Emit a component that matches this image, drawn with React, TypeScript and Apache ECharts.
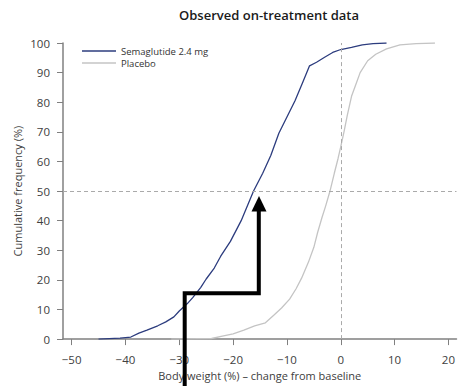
import React, { useEffect, useRef } from "react";
import * as echarts from "echarts";

const title = "Observed on-treatment data";
const xAxisName = "Body weight (%) – change from baseline";
const yAxisName = "Cumulative frequency (%)";
const xTicks = [-50, -40, -30, -20, -10, 0, 10, 20];
const seriesNames = ["Semaglutide 2.4 mg", "Placebo"];

const semaX = [-45, -41, -39, -37.5, -36, -34, -32.5, -31, -30, -28.5, -27.5, -26, -25, -23.5, -22.3, -20.5, -18.5, -16.2, -14.5, -13, -11.5, -10, -8.5, -7, -5.8, -4.5, -3, -1.5, 0, 2, 4, 6, 8.5];
const semaY = [0, 0.3, 0.7, 2, 3, 4.5, 5.8, 7.5, 9.5, 12, 14, 17.5, 20.3, 24, 28, 33, 40, 50, 56, 62, 69.5, 75, 80.5, 87, 92.3, 93.5, 95.2, 96.8, 97.8, 98.5, 99.4, 99.8, 100];

const placeboX = [-31.5, -24, -22, -20, -18, -16, -14, -12.5, -11, -9.5, -8.3, -7.3, -6, -5, -4.3, -3.5, -2.8, -2, -1.2, -0.5, 0, 0.6, 1.2, 2, 2.8, 3.6, 5, 6.5, 8.5, 11, 14, 17.5];
const placeboY = [0, 0.2, 1, 1.8, 3, 4.5, 5.5, 8, 10.5, 13.5, 17, 20.5, 26, 31, 36, 41, 45, 50, 56, 61, 65, 70, 75.5, 82, 86, 90, 94, 96.2, 98, 99.4, 99.8, 100];

const refX = 0;
const refY = 50;

const FONT = "Open Sans";

export default function App() {
  const ref = useRef<HTMLDivElement>(null);
  useEffect(() => {
    const chart = echarts.init(ref.current!, null, { renderer: "svg" });
    const fmt = (v: number) => (v < 0 ? "\u2212" + Math.abs(v) : String(v));
    chart.setOption({
      animation: false,
      textStyle: { fontFamily: FONT },
      title: {
        text: title,
        left: 264,
        top: 3,
        textAlign: "center",
        textStyle: { fontFamily: FONT, fontSize: 13, fontWeight: 600, color: "#1a1a1a" },
      },
      legend: {
        orient: "vertical",
        left: 77,
        top: 41,
        icon: "rect",
        itemWidth: 34,
        itemHeight: 1.4,
        itemGap: 2,
        data: seriesNames,
        textStyle: { fontFamily: FONT, fontSize: 9.5, color: "#333" },
      },
      grid: { left: 63, right: 0, top: 43, bottom: 45, containLabel: false },
      xAxis: {
        type: "value",
        min: -51.6,
        max: 21.5,
        name: xAxisName,
        nameLocation: "middle",
        nameGap: 30,
        nameTextStyle: { fontFamily: FONT, fontSize: 11, color: "#404040" },
        splitLine: { show: false },
        axisLine: { show: true, onZero: false, lineStyle: { color: "#808080", width: 1.5 } },
        axisTick: { show: true, customValues: xTicks, length: 6, lineStyle: { color: "#808080" } },
        axisLabel: {
          customValues: xTicks,
          formatter: fmt,
          fontFamily: FONT,
          fontSize: 11.5,
          color: "#404040",
          margin: 14,
        },
      },
      yAxis: {
        type: "value",
        min: 0,
        max: 100,
        interval: 10,
        name: yAxisName,
        nameLocation: "middle",
        nameGap: 40,
        nameMoveOverlap: false,
        nameTextStyle: { fontFamily: FONT, fontSize: 11, color: "#404040" },
        splitLine: { show: false },
        axisLine: { show: true, onZero: false, lineStyle: { color: "#808080", width: 1.5 } },
        axisTick: { show: true, length: 6, lineStyle: { color: "#808080" } },
        axisLabel: { fontFamily: FONT, fontSize: 11.5, color: "#404040", margin: 13 },
      },
      series: [
        {
          name: seriesNames[0],
          type: "line",
          symbol: "none",
          showSymbol: false,
          data: semaX.map((x, i) => [x, semaY[i]]),
          lineStyle: { color: "#2c3c7e", width: 1.3 },
          itemStyle: { color: "#2c3c7e" },
          markLine: {
            silent: true,
            symbol: "none",
            label: { show: false },
            lineStyle: { color: "#aaaaaa", type: [4, 3], width: 1 },
            data: [{ xAxis: refX }, { yAxis: refY }],
          },
          z: 3,
        },
        {
          name: seriesNames[1],
          type: "line",
          symbol: "none",
          showSymbol: false,
          data: placeboX.map((x, i) => [x, placeboY[i]]),
          lineStyle: { color: "#c4c4c4", width: 1.3 },
          itemStyle: { color: "#c4c4c4" },
          z: 2,
        },
      ],
      graphic: [
        {
          type: "polyline",
          shape: { points: [[184.7, 386], [184.7, 293.3], [258.8, 293.3], [258.8, 210]] },
          style: { stroke: "#000", lineWidth: 4, fill: null, lineJoin: "miter" },
          z: 100,
        },
        {
          type: "polygon",
          shape: { points: [[251.5, 211.5], [266.5, 211.5], [259, 196]] },
          style: { fill: "#000" },
          z: 100,
        },
      ],
    });
    return () => chart.dispose();
  }, []);
  return <div ref={ref} style={{ position: "absolute", left: 0, top: 0, width: 458, height: 386 }} />;
}
